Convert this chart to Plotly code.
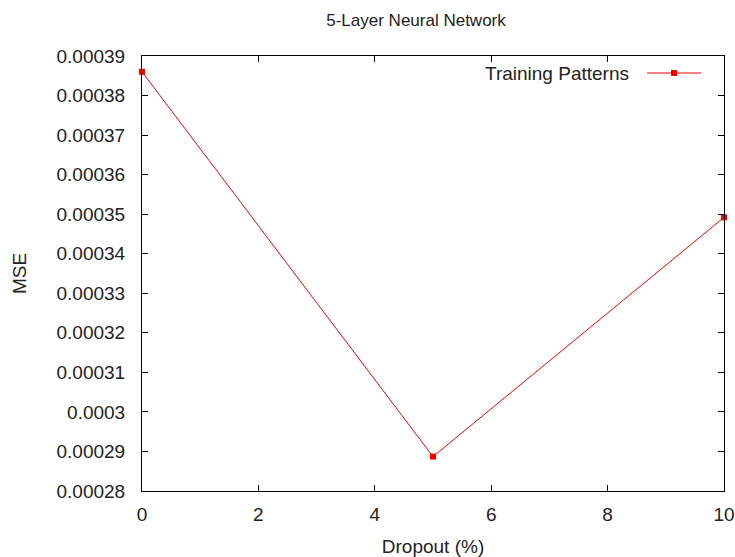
import plotly.graph_objects as go

# Dropout rate (%) and the resulting mean squared error
dropout = [0, 5, 10]
mse = [0.000386, 0.0002887, 0.0003492]

series_name = "Training Patterns"
chart_title = "5-Layer Neural Network"

x_ticks = [0, 2, 4, 6, 8, 10]
y_tick_vals = [0.00028, 0.00029, 0.0003, 0.00031, 0.00032, 0.00033,
               0.00034, 0.00035, 0.00036, 0.00037, 0.00038, 0.00039]
y_tick_text = ["0.00028", "0.00029", "0.0003", "0.00031", "0.00032", "0.00033",
               "0.00034", "0.00035", "0.00036", "0.00037", "0.00038", "0.00039"]

W, H = 735, 557
L, R, T, B = 142, 11, 56, 66
pw, ph = W - L - R, H - T - B

def px(x):
    return (x - L) / pw

def py(y):
    return (H - B - y) / ph

RED = "#ff0000"
FONT = "Liberation Sans, Arial, sans-serif"

fig = go.Figure()
fig.add_trace(go.Scatter(
    x=dropout, y=mse, mode="lines+markers", name=series_name,
    line=dict(color=RED, width=1),
    marker=dict(symbol="square", size=6, color=RED),
    showlegend=False, cliponaxis=False,
))

axis_common = dict(
    showline=True, linecolor="black", linewidth=1, mirror="ticks",
    ticks="inside", ticklen=6, tickcolor="black", tickwidth=1,
    showgrid=False, zeroline=False, automargin=False,
    tickfont=dict(family=FONT, size=19, color="#222"),
)

fig.update_xaxes(range=[0, 10], tickvals=x_ticks,
                 title=dict(text="Dropout (%)", font=dict(family=FONT, size=19, color="#222"), standoff=17),
                 ticklabelstandoff=6, **axis_common)
fig.update_yaxes(range=[0.00028, 0.00039], tickvals=y_tick_vals, ticktext=y_tick_text,
                 title=dict(text="MSE", font=dict(family=FONT, size=19, color="#222"), standoff=24),
                 ticklabelstandoff=12, **axis_common)

# Key: text on the left, line sample with a marker on the right
key_y = 73
fig.add_annotation(x=px(631), y=py(key_y), xref="paper", yref="paper",
                   text=series_name, showarrow=False, xanchor="right", yanchor="middle",
                   font=dict(family=FONT, size=19, color="#222"))
fig.add_shape(type="line", xref="paper", yref="paper",
              x0=px(647), x1=px(701), y0=py(key_y), y1=py(key_y),
              line=dict(color=RED, width=1))
fig.add_shape(type="rect", xref="paper", yref="paper",
              x0=px(671), x1=px(677), y0=py(key_y - 3), y1=py(key_y + 3),
              line=dict(width=0), fillcolor=RED)

fig.update_layout(
    width=W, height=H, autosize=False,
    margin=dict(l=L, r=R, t=T, b=B),
    paper_bgcolor="white", plot_bgcolor="white",
    title=dict(text=chart_title, x=416 / W, xanchor="center", y=1 - 20 / H, yanchor="middle",
               font=dict(family=FONT, size=17, color="#222")),
)

fig.write_html("out.html")
